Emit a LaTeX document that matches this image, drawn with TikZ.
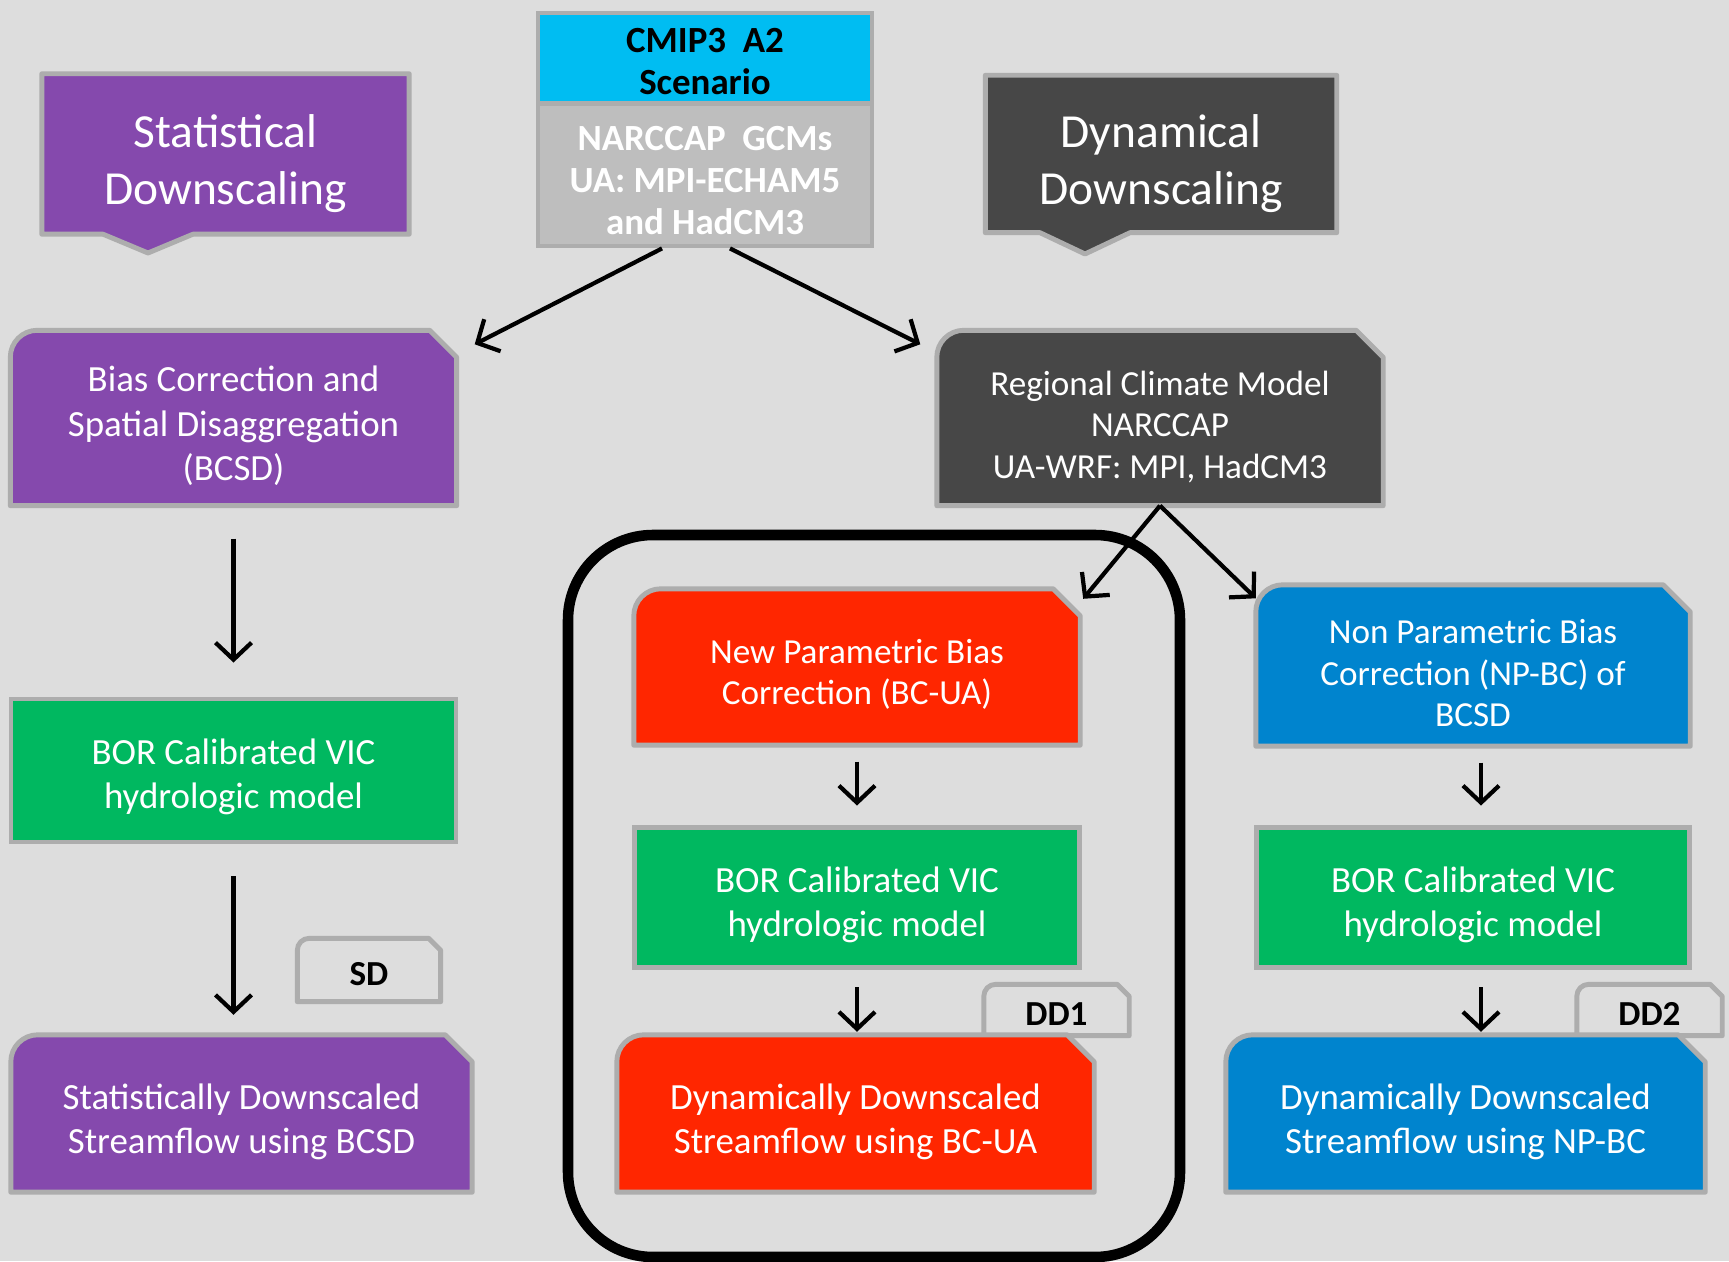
\documentclass[tikz,border=0pt]{standalone}
\usepackage{fontspec}
\setmainfont{Carlito}
\usetikzlibrary{arrows.meta, positioning, backgrounds, calc}
\definecolor{bgGrey}{HTML}{DDDDDD}
\definecolor{edgeGrey}{HTML}{ADADAD}
\definecolor{statPurple}{HTML}{8549AD}
\definecolor{dynDark}{HTML}{474747}
\definecolor{scenCyan}{HTML}{00BDF2}
\definecolor{gcmGrey}{HTML}{BEBEBE}
\definecolor{vicGreen}{HTML}{00B860}
\definecolor{uaRed}{HTML}{FF2600}
\definecolor{npBlue}{HTML}{0084CE}
\tikzset{
  boxtext/.style={rectangle, inner sep=0pt, text=white, align=center,
                  font=\fontsize{10.5}{12.6}\selectfont},
  corrtext/.style={boxtext, font=\fontsize{10}{11.8}\selectfont},
  headtext/.style={rectangle, inner sep=0pt, text=white, align=center,
                   font=\fontsize{13.5}{16.2}\selectfont},
  vicbox/.style={boxtext, draw=edgeGrey, line width=1.4pt, fill=vicGreen},
  topbox/.style={rectangle, inner sep=0pt, draw=edgeGrey, line width=1.4pt, align=center,
                 font=\bfseries\fontsize{10.5}{12}\selectfont},
  tagtext/.style={rectangle, inner sep=0pt, text=black, align=center,
                  font=\bfseries\fontsize{10}{12}\selectfont},
  edge/.style={draw=edgeGrey, line width=1.4pt, line join=round},
  flow/.style={-{Straight Barb[length=1.7mm, width=3.6mm]}, line width=1.2pt, black},
  group/.style={rectangle, draw=black, line width=3pt, rounded corners=0.85cm},
}
% strut on the first line, pushes the text block down a little
\newcommand{\lift}[1][1.12]{\rule{0pt}{#1em}}
% #1 = corner size, #2 = node, #3 = fill
\newcommand{\snipbox}[3][2.7mm]{%
  \draw[edge, fill=#3] (#2.south west) -- ([yshift=-#1]#2.north west)
    arc[start angle=180, end angle=90, radius=#1]
    -- ([xshift=-#1]#2.north east) -- ([yshift=-#1]#2.north east)
    -- (#2.south east) -- cycle;}
% #1 = node, #2 = pointer tip, #3 = fill
\newcommand{\headbox}[3]{%
  \draw[edge, fill=#3] (#1.north west) -- (#1.north east) -- (#1.south east)
    -- ($(#2 |- #1.south)+(0.45,0)$) -- (#2) -- ($(#2 |- #1.south)+(-0.45,0)$)
    -- (#1.south west) -- cycle;}

\begin{document}
\begin{tikzpicture}
\useasboundingbox (0,0) rectangle (17.29,12.61);

% --- headers ---
\node[headtext, minimum width=3.66cm, minimum height=1.59cm] (sdHead) at (2.255,11.07) {\lift[1.1]Statistical\\Downscaling};
\node[headtext, minimum width=3.50cm, minimum height=1.56cm] (ddHead) at (11.61,11.07) {\lift[1.1]Dynamical\\Downscaling};
\coordinate (sdTip) at (1.48,10.08);
\coordinate (ddTip) at (10.85,10.07);

\node[topbox, fill=scenCyan, text=black, minimum width=3.34cm, minimum height=0.90cm] (cmip) at (7.05,12.03) {\lift[0.84]CMIP3\ \ A2\\Scenario};
\node[topbox, fill=gcmGrey, text=white, minimum width=3.34cm, minimum height=1.42cm] (gcm) at (7.05,10.86) {\lift[0.95]NARCCAP\ \ GCMs\\UA: MPI-ECHAM5\\and HadCM3};

% --- statistical column ---
\node[boxtext, minimum width=4.45cm, minimum height=1.74cm] (bcsd) at (2.335,8.43) {\lift Bias Correction and\\Spatial Disaggregation\\(BCSD)};
\node[vicbox, minimum width=4.45cm, minimum height=1.43cm] (vicL) at (2.335,4.905) {\lift[1.05]BOR Calibrated VIC\\hydrologic model};
\node[tagtext, minimum width=1.42cm, minimum height=0.62cm] (sdTag) at (3.69,2.91) {\lift[0.9]SD};
\node[boxtext, minimum width=4.60cm, minimum height=1.56cm] (sdOut) at (2.415,1.475) {\lift[1.15]Statistically Downscaled\\Streamflow using BCSD};

% --- dynamical columns ---
\node[corrtext, minimum width=4.45cm, minimum height=1.74cm] (rcm) at (11.60,8.43) {\lift[1.2]Regional Climate Model\\NARCCAP\\UA-WRF: MPI, HadCM3};

\node[corrtext, minimum width=4.45cm, minimum height=1.55cm] (bcua) at (8.57,5.94) {\lift New Parametric Bias\\Correction (BC-UA)};
\node[vicbox, minimum width=4.45cm, minimum height=1.40cm] (vicM) at (8.57,3.635) {\lift[1.1]BOR Calibrated VIC\\hydrologic model};
\node[tagtext, minimum width=1.44cm, minimum height=0.50cm] (dd1Tag) at (10.565,2.51) {\lift[0.9]DD1};
\node[boxtext, minimum width=4.76cm, minimum height=1.56cm] (ddOut1) at (8.555,1.475) {\lift[1.15]Dynamically Downscaled\\Streamflow using BC-UA};

\node[corrtext, minimum width=4.33cm, minimum height=1.60cm] (bnp) at (14.73,5.955) {\lift Non Parametric Bias\\Correction (NP-BC) of\\BCSD};
\node[vicbox, minimum width=4.33cm, minimum height=1.40cm] (vicR) at (14.73,3.635) {\lift[1.1]BOR Calibrated VIC\\hydrologic model};
\node[tagtext, minimum width=1.44cm, minimum height=0.50cm] (dd2Tag) at (16.495,2.51) {\lift[0.9]DD2};
\node[boxtext, minimum width=4.78cm, minimum height=1.56cm] (ddOut2) at (14.655,1.475) {\lift[1.15]Dynamically Downscaled\\Streamflow using NP-BC};

\node[group, minimum width=6.12cm, minimum height=7.22cm] (ddFrame) at (8.74,3.65) {};

% --- shapes behind the text ---
\begin{scope}[on background layer]
  \fill[bgGrey] (0,0) rectangle (17.29,12.61);
  \foreach \t in {sdTag, dd1Tag, dd2Tag} \snipbox[1.2mm]{\t}{bgGrey};
  \foreach \n/\c in {bcsd/statPurple, sdOut/statPurple, rcm/dynDark,
                     bcua/uaRed, ddOut1/uaRed, bnp/npBlue, ddOut2/npBlue}
    \snipbox{\n}{\c};
  \headbox{sdHead}{sdTip}{statPurple}
  \headbox{ddHead}{ddTip}{dynDark}
\end{scope}

% --- arrows ---
\draw[flow] ([xshift=-0.43cm]gcm.south) -- ([shift={(0.18,-0.14)}]bcsd.north east);
\draw[flow] ([xshift=0.25cm]gcm.south) -- ([shift={(-0.165,-0.14)}]rcm.north west);
\draw[flow] (rcm.south) -- ([shift={(0.03,-0.1)}]bcua.north east);
\draw[flow] (rcm.south) -- ([shift={(0,-0.135)}]bnp.north west);

\draw[flow, shorten <=3.3mm, shorten >=3.4mm] (bcsd.south) -- (vicL.north);
\draw[flow, shorten <=3.2mm, shorten >=2mm] (vicL.south) -- (vicL.south |- sdOut.north);
\draw[flow, shorten <=1.65mm, shorten >=1.95mm] (bcua.south) -- (vicM.north);
\draw[flow, shorten <=1.75mm, shorten >=0.3mm] (vicM.south) -- (vicM.south |- ddOut1.north);
\draw[flow, shorten <=1.65mm, shorten >=1.95mm] ([xshift=0.08cm]bnp.south) -- ([xshift=0.08cm]vicR.north);
\draw[flow, shorten <=1.75mm, shorten >=0.3mm] ([xshift=0.08cm]vicR.south) -- ([xshift=0.08cm]vicR.south |- ddOut2.north);

\end{tikzpicture}
\end{document}
